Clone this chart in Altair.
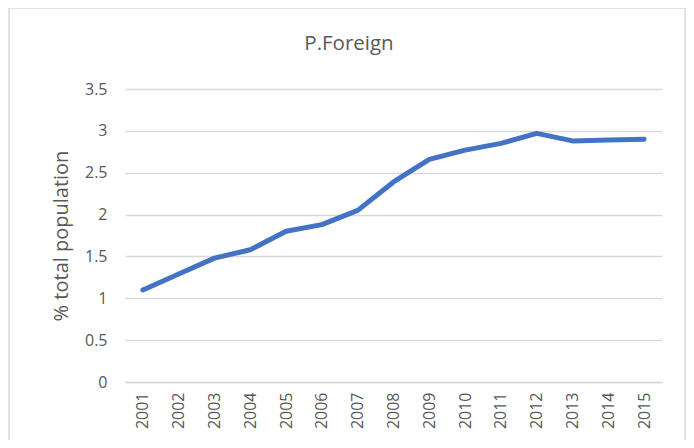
import altair as alt
import pandas as pd

years = ["2001", "2002", "2003", "2004", "2005", "2006", "2007", "2008",
         "2009", "2010", "2011", "2012", "2013", "2014", "2015"]
values = [1.10, 1.29, 1.48, 1.58, 1.80, 1.88, 2.05, 2.39,
          2.66, 2.77, 2.85, 2.97, 2.88, 2.89, 2.90]
y_ticks = [0, 0.5, 1, 1.5, 2, 2.5, 3, 3.5]
title_text = ["P.Foreign"]

df = pd.DataFrame({"year": years, "value": values})

FONT = "Open Sans"
TXT = "#595959"
GRID = "#d9d9d9"

border = alt.Chart(pd.DataFrame({"a": [0]})).mark_rect(
    fill=None, stroke=GRID, strokeWidth=1.5
).encode(
    x=alt.value(-116), x2=alt.value(560),
    y=alt.value(-81), y2=alt.value(420)
)

title = alt.Chart(pd.DataFrame({"t": title_text})).mark_text(
    font=FONT, fontSize=20.5, color=TXT, align="center", baseline="alphabetic"
).encode(
    text="t:N", x=alt.value(224), y=alt.value(-39)
)

line = alt.Chart(df).mark_line(
    color="#4472C4", strokeWidth=5, strokeCap="round", strokeJoin="round"
).encode(
    x=alt.X("year:O", sort=years, scale=alt.Scale(type="point", padding=0.5),
            axis=alt.Axis(title=None, labelAngle=-90, labelPadding=10, ticks=False,
                          domainColor=GRID, domainWidth=1.5, grid=False,
                          labelFontSize=16, labelColor=TXT, labelFont=FONT)),
    y=alt.Y("value:Q", scale=alt.Scale(domain=[0, 3.5], nice=False),
            axis=alt.Axis(title="% total population", values=y_ticks, format="~g",
                          ticks=False, domain=False, labelPadding=18,
                          gridColor=GRID, gridWidth=1.5,
                          labelFontSize=16, labelColor=TXT, labelFont=FONT,
                          titleFontSize=20, titleColor=TXT, titleFont=FONT,
                          titleFontWeight="normal", titlePadding=13))
)

chart = alt.layer(border, line, title).properties(
    width=537, height=293,
    autosize="none",
    padding={"left": 117, "top": 81, "right": 24, "bottom": 58}
).configure_view(stroke=None)

chart.save("out.html", embed_options={"renderer": "svg", "actions": False})
